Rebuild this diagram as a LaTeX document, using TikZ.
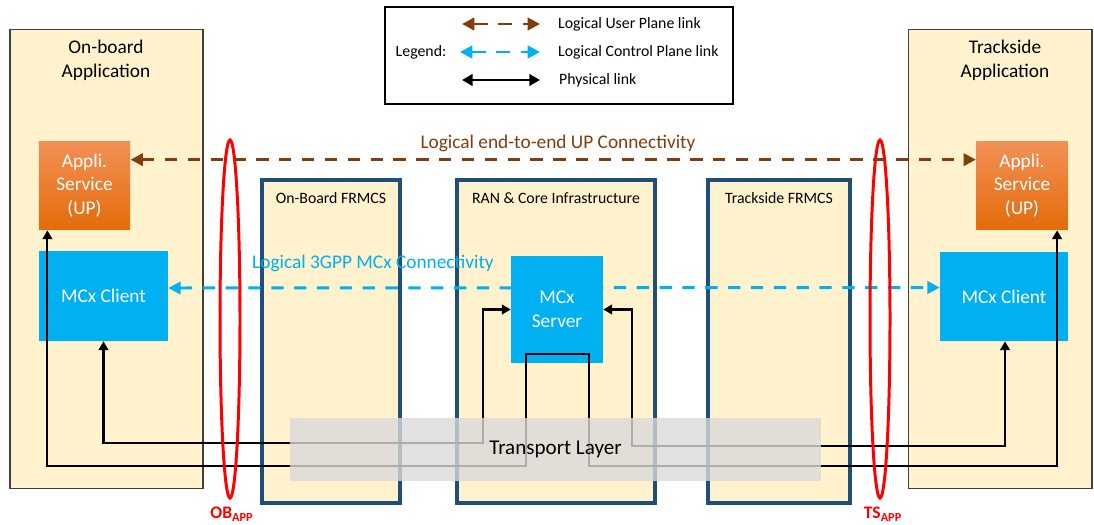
\documentclass[tikz,border=0pt]{standalone}
\usepackage{fontspec}
\setmainfont{Carlito}
\usepackage{tikz}
\usetikzlibrary{positioning,calc,arrows.meta,shapes.geometric}
\definecolor{cream}{HTML}{FFF2CC}
\definecolor{frmcs}{HTML}{1F4E79}
\definecolor{mcx}{HTML}{00B0F0}
\definecolor{svctop}{HTML}{F29056}
\definecolor{svcbot}{HTML}{E36C0A}
\definecolor{upbrown}{HTML}{843C0C}
\definecolor{layer}{HTML}{D9D9D9}

\begin{document}
\begin{tikzpicture}[x=0.02cm,y=-0.02cm]
\tikzset{App/.style={draw=black!75,line width=0.6pt,fill=cream,minimum height=9.2cm}}
\tikzset{F/.style={draw=frmcs,line width=1.8pt,fill=cream,minimum height=6.46cm}}
\tikzset{S/.style={top color=svctop,bottom color=svcbot,text=white,align=center,minimum width=1.83cm,minimum height=1.78cm,font=\fontsize{11}{13.4}\selectfont}}
\tikzset{M/.style={fill=mcx,text=white,align=center,font=\fontsize{11}{13.4}\selectfont}}
\tikzset{T/.style={font=\fontsize{9}{11}\selectfont}}
\tikzset{phys/.style={draw=black,line width=1.2pt,{Triangle[length=5pt,width=5.5pt]}-{Triangle[length=5pt,width=5.5pt]}}}
\tikzset{up/.style={draw=upbrown,line width=1.7pt,dash pattern=on 7pt off 6pt,{Triangle[length=7pt,width=7pt]}-{Triangle[length=7pt,width=7pt]}}}
\tikzset{cp/.style={draw=mcx,line width=1.7pt,dash pattern=on 7pt off 6pt,{Triangle[length=7pt,width=7pt]}-{Triangle[length=7pt,width=7pt]}}}
\tikzset{R/.style={ellipse,draw=red,line width=1.7pt,inner sep=0pt,minimum width=0.4cm,minimum height=7.16cm}}

\useasboundingbox (0,0) rectangle (1094,524);

  \node[App,minimum width=3.86cm] (obapp) at (106.5,259) {};
  \node[App,minimum width=3.68cm] (tsapp) at (1000,259) {};
  \node[align=center,font=\fontsize{11}{13.6}\selectfont] (obtitle) at (106,60) {On-board\\Application};
  \node[align=center,font=\fontsize{11}{13.6}\selectfont] (tstitle) at (1005,60) {Trackside\\Application};

  \node[F,minimum width=2.76cm] (obfrmcs) at (331,341.5) {};
  \node[F,minimum width=3.96cm] (ran) at (556,341.5) {};
  \node[F,minimum width=2.84cm] (tsfrmcs) at (779,341.5) {};
  \node[T] (obfrmcslbl) at (331,198) {On-Board FRMCS};
  \node[T] (ranlbl) at (556,198) {RAN \& Core Infrastructure};
  \node[T] (tsfrmcslbl) at (779,198) {Trackside FRMCS};

  \node[S] (obsvc) at (84.5,185.5) {Appli.\\Service\\(UP)};
  \node[S] (tssvc) at (1022,185.5) {Appli.\\Service\\(UP)};
  \node[M,minimum width=2.58cm,minimum height=1.8cm] (obclient) at (103.5,296) {MCx Client};
  \node[M,minimum width=2.56cm,minimum height=1.78cm] (tsclient) at (1004,296.5) {MCx Client};

  \draw[cp] ($(obclient.east)+(0,-8)$) -- ($(tsclient.west)+(0,-9)$);
  \node[text=mcx,font=\fontsize{11}{13}\selectfont] (cplbl) at (373,263) {Logical 3GPP MCx Connectivity};

  \node[M,minimum width=1.84cm,minimum height=2.14cm] (mcxsrv) at (557,309.5) {MCx\\Server};

  \draw[phys] (obclient.south) |- (483,443) |- (mcxsrv.west);
  \draw[phys] (mcxsrv.east) -| (632,446) -| ($(tsclient.south)+(1,0)$);
  \draw[phys] ($(obsvc.south west)+(9,0)$) |- (526,466) |- (589,354) -- (589,466) -| ($(tssvc.south east)+(-11,0)$);

  \node[fill=layer,fill opacity=0.8,text opacity=1,minimum width=10.62cm,minimum height=1.26cm,font=\fontsize{12}{14}\selectfont] (transport) at (555.5,449.5) {Transport Layer};

  \node[R] (obring) at (230,319) {};
  \node[R] (tsring) at (880,319) {};
  \node[text=red,font=\bfseries\fontsize{10}{12}\selectfont] (oblbl) at (232,514) {OB\textsubscript{APP}};
  \node[text=red,font=\bfseries\fontsize{10}{12}\selectfont] (tslbl) at (883,514) {TS\textsubscript{APP}};

  \draw[up] ($(obsvc.north east)+(0,19)$) -- ($(tssvc.north west)+(0,19)$);
  \node[text=upbrown,font=\fontsize{11}{13}\selectfont] (uplbl) at (558,143) {Logical end-to-end UP Connectivity};

  \node[draw=black,line width=1.1pt,minimum width=6.96cm,minimum height=1.94cm] (legend) at (559,55.5) {};
  \node[T] (lgtitle) at (421,52) {Legend:};
  \node[T,anchor=west] (lgup) at (552,24) {Logical User Plane link};
  \node[T,anchor=west] (lgcp) at (552,52) {Logical Control Plane link};
  \node[T,anchor=west] (lgph) at (553,80) {Physical link};
  \coordinate (lgup1) at (462,24);
  \coordinate (lgcp1) at (460,52);
  \coordinate (lgph1) at (462,80);
  \draw[up,dash pattern=on 8pt off 6pt] (lgup1) -- ($(lgup.west)+(-12,0)$);
  \draw[cp,dash pattern=on 8pt off 6pt] (lgcp1) -- ($(lgcp.west)+(-12,0)$);
  \draw[phys,line width=1.5pt,{Triangle[length=6pt,width=6.5pt]}-{Triangle[length=6pt,width=6.5pt]}] (lgph1) -- ($(lgph.west)+(-13,0)$);
\end{tikzpicture}
\end{document}
